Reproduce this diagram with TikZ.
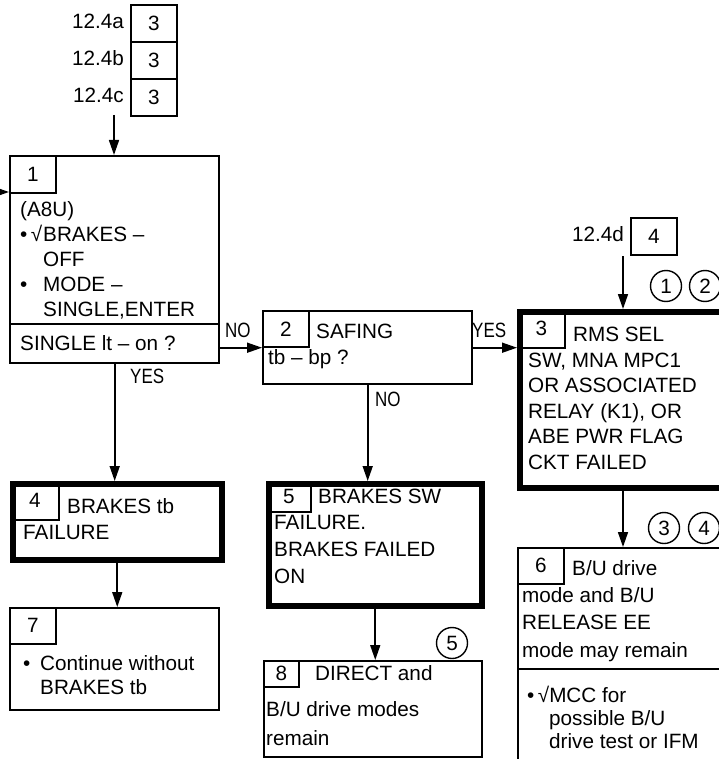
\documentclass[tikz,border=0pt]{standalone}
\usepackage{fontspec}
\setmainfont{Liberation Sans}
\newfontfamily\narrowfont[FakeStretch=0.82]{Liberation Sans}
\usetikzlibrary{arrows.meta, positioning}
\newcommand{\boxfont}{\fontsize{20.7}{25.5}\selectfont}
\tikzstyle{stepbox} = [rectangle, draw=black, line width=2.4pt, anchor=north west, inner sep=0pt]
\tikzstyle{failbox} = [stepbox, line width=5.5pt]
\tikzstyle{numbox} = [rectangle, draw=black, line width=1.6pt, anchor=north west, inner sep=0pt, font=\boxfont]
\tikzstyle{circnum} = [circle, draw=black, line width=1.4pt, minimum size=31pt, inner sep=0pt, font=\boxfont]
\tikzstyle{txt} = [anchor=base west, inner sep=0pt, align=left, font=\boxfont]
\tikzstyle{lbl} = [anchor=base west, inner sep=0pt, font=\narrowfont\fontsize{20.7}{24}\selectfont]
\tikzstyle{arrow} = [line width=1.6pt, -{Triangle[length=15pt,width=10pt]}]

\begin{document}
\begin{tikzpicture}[x=1pt, y=-1pt]
\useasboundingbox (0,0) rectangle (718,759);

% Entry references
\node (la) [txt, anchor=base east] at (124,29) {12.4a};
\node (lb) [txt, anchor=base east] at (124,66) {12.4b};
\node (lc) [txt, anchor=base east] at (124,103) {12.4c};
\node (ra) [numbox, minimum width=46pt, minimum height=37pt] at (130,4) {3};
\node (rb) [numbox, minimum width=46pt, minimum height=37pt] at (130,41) {3};
\node (rc) [numbox, minimum width=46pt, minimum height=37pt] at (130,78) {3};
\node (ld) [txt, anchor=base east] at (624,241) {12.4d};
\node (rd) [numbox, minimum width=46pt, minimum height=37pt] at (630,217) {4};

% Boxes (multi-line texts sit on the baseline of their last line)
\node (b1) [stepbox, minimum width=209pt, minimum height=207pt] at (9,155) {};
\node (n1) [numbox, minimum width=46pt, minimum height=37pt] at (9,155) {1};
\draw [line width=2pt] (9,324) -- (218,324);
\node (t1) [txt] at (20,316) {(A8U)\\[-0.5pt] \makebox[23pt][l]{\textbullet\,√}BRAKES –\\[-0.5pt] \hspace*{23pt}OFF\\[-0.5pt] \makebox[23pt][l]{\textbullet}MODE –\\[-0.5pt] \hspace*{23pt}SINGLE,ENTER};
\node (q1) [txt] at (20,350) {SINGLE lt – on ?};

\node (b2) [stepbox, minimum width=209pt, minimum height=73pt] at (262,310) {};
\node (n2) [numbox, minimum width=46pt, minimum height=36pt] at (262,310) {2};
\node (t2) [txt] at (316,338) {SAFING};
\node (q2) [txt] at (268,364) {tb – bp ?};

\node (b3) [failbox, minimum width=230pt, minimum height=176pt] at (517,309) {};
\node (n3) [numbox, minimum width=47pt, minimum height=38pt] at (517,309) {3};
\node (h3) [txt] at (573,341) {RMS SEL};
\node (t3) [txt] at (528,469) {SW, MNA MPC1\\ OR ASSOCIATED\\ RELAY (K1), OR\\ ABE PWR FLAG\\ CKT FAILED};

\node (b4) [failbox, minimum width=209pt, minimum height=76pt] at (10,481) {};
\node (n4) [numbox, minimum width=48pt, minimum height=38pt] at (10,481) {4};
\node (h4) [txt] at (67,513) {BRAKES tb};
\node (t4) [txt] at (23,539) {FAILURE};

\node (b5) [failbox, minimum width=213pt, minimum height=122pt] at (266,481) {};
\node (n5) [numbox, minimum width=44pt, minimum height=30pt] at (266,481) {5};
\node (h5) [txt] at (318,503) {BRAKES SW};
\node (t5) [txt] at (274,583) {FAILURE.\\[1.2pt] BRAKES FAILED\\[1.2pt] ON};

\node (b6) [stepbox, minimum width=230pt, minimum height=240pt] at (517,547) {};
\node (n6) [numbox, minimum width=46pt, minimum height=36pt] at (517,547) {6};
\node (h6) [txt] at (572,575) {B/U drive};
\node (t6) [txt] at (522,657) {mode and B/U\\[2pt] RELEASE EE\\[2pt] mode may remain};
\draw [line width=2pt] (517,669) -- (740,669);
\node (s6) [txt] at (527,748) {\textbullet\,√MCC for\\[-2.5pt] \hspace*{22pt}possible B/U\\[-2.5pt] \hspace*{22pt}drive test or IFM};

\node (b7) [stepbox, minimum width=209pt, minimum height=102pt] at (9,607) {};
\node (n7) [numbox, minimum width=46pt, minimum height=36pt] at (9,607) {7};
\node (t7) [txt] at (23,694) {\makebox[17pt][l]{\textbullet}Continue without\\[-1.5pt] \hspace*{17pt}BRAKES tb};

\node (b8) [stepbox, minimum width=218pt, minimum height=96pt] at (263,660) {};
\node (n8) [numbox, minimum width=35pt, minimum height=26pt] at (263,660) {8};
\node (h8) [txt] at (315,680) {DIRECT and};
\node (t8) [txt] at (266,745) {B/U drive modes\\[3.5pt] remain};

% Notes
\node (c1) [circnum] at (666,286) {1};
\node (c2) [circnum] at (705,286) {2};
\node (c3) [circnum] at (664,528) {3};
\node (c4) [circnum] at (704,528) {4};
\node (c5) [circnum] at (452,643) {5};

% Arrows
\coordinate (ain) at (114,115);
\coordinate (lin) at (-20,192);
\coordinate (din) at (623,256);
\draw [arrow] (ain) -- (ain |- b1.north);
\draw [arrow] (lin) -- (lin -| b1.west);
\draw [arrow] (b1.east |- b2.west) -- (b2.west);
\draw [arrow] (b1.south) -- (b1.south |- b4.north);
\draw [arrow] (b2.east) -- (b2.east -| b3.west);
\draw [arrow] (b2.south) -- (b2.south |- b5.north);
\draw [arrow] (din) -- (din |- b3.north);
\draw [arrow] (din |- b3.south) -- (din |- b6.north);
\draw [arrow] (b4.south) -- (b4.south |- b7.north);
\draw [arrow] (b5.south) -- (b5.south |- b8.north);

% Branch labels
\node (no1) [lbl] at (225,337) {NO};
\node (yes1) [lbl] at (130,383) {YES};
\node (yes2) [lbl] at (472,337) {YES};
\node (no2) [lbl] at (375,406) {NO};

\end{tikzpicture}
\end{document}
